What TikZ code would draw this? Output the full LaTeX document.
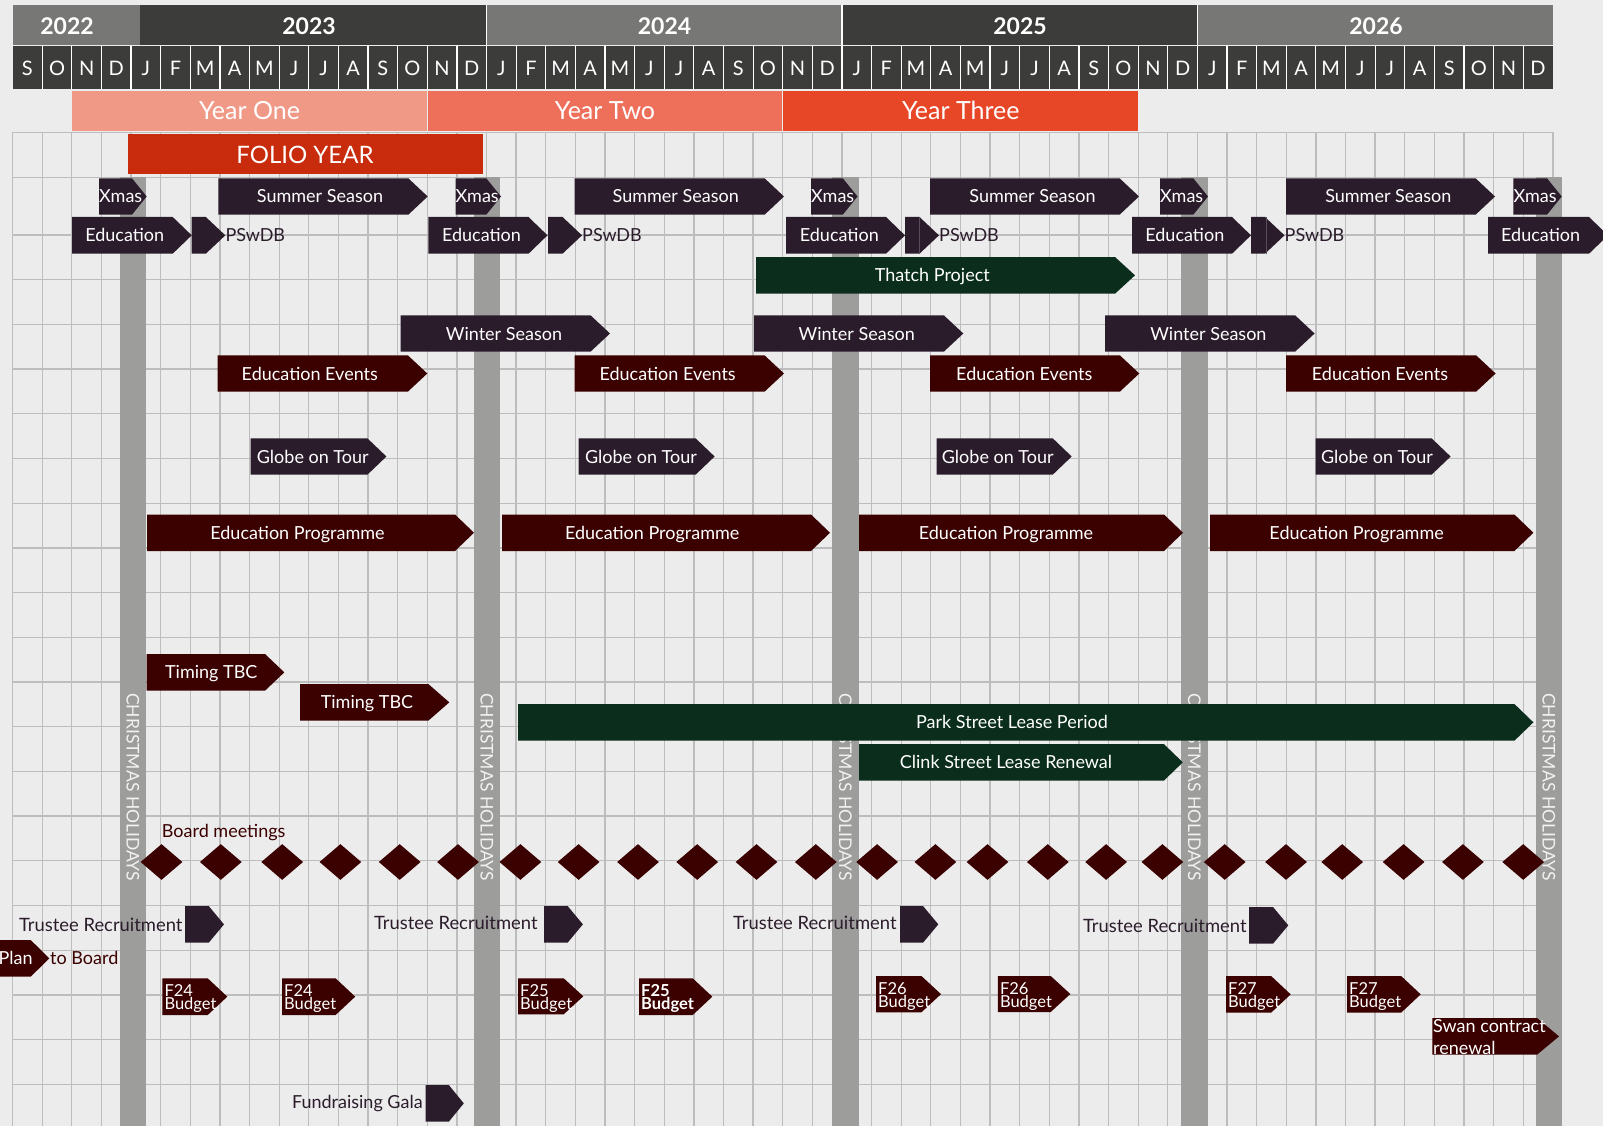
\documentclass[tikz,border=0pt]{standalone}
\usepackage{fontspec}
\setmainfont{Lato}
\definecolor{bg}{HTML}{ECECEC}
\definecolor{gridc}{HTML}{BDBDBD}
\definecolor{ydark}{HTML}{3C3C3B}
\definecolor{ygray}{HTML}{777776}
\definecolor{yone}{HTML}{F19987}
\definecolor{ytwo}{HTML}{EE705A}
\definecolor{ythree}{HTML}{E84727}
\definecolor{folio}{HTML}{C92C0C}
\definecolor{holgray}{HTML}{9D9D9C}
\definecolor{cpur}{HTML}{2B1C2B}
\definecolor{cmar}{HTML}{3B0000}
\definecolor{cgrn}{HTML}{0B2E1C}
\definecolor{seam}{HTML}{5A4C5A}
% #1 x1, #2 y1, #3 x2 (tip), #4 y2, #5 colour, #6 tip length
\newcommand\chev[6]{\fill[#5] (#1,#2) -- ({#3-#6},#2) -- (#3,{(#2+#4)/2}) -- ({#3-#6},#4) -- (#1,#4) -- cycle;}
\tikzset{
  lab/.style={font=\fontsize{18}{20}\selectfont, inner sep=0pt, text height=13pt, text depth=0pt},
  wl/.style={lab, text=white},
  pl/.style={lab, text=cpur},
  ml/.style={lab, text=cmar},
  mon/.style={font=\fontsize{20}{22}\selectfont, text=white, inner sep=0pt, text height=14.3pt, text depth=0pt},
  yr/.style={font=\fontsize{23}{25}\selectfont\bfseries, text=white, inner sep=0pt, text height=16.5pt, text depth=0pt},
  yband/.style={font=\fontsize{25}{27}\selectfont, text=white, inner sep=0pt, text height=17.9pt, text depth=0pt},
  bud/.style={font=\fontsize{16.5}{16.5}\selectfont, text=white, inner sep=0pt, anchor=base west},
  xmaslab/.style={font=\fontsize{17.5}{19}\selectfont, text=white!95!black, inner sep=0pt, text height=12.5pt, text depth=0pt, rotate=-90},
  gline/.style={gridc, line width=1.3pt}
}
\begin{document}
\begin{tikzpicture}[x=1pt,y=-1pt]
\useasboundingbox (0,0) rectangle (1603,1126);
\clip (0,0) rectangle (1603,1126);
\fill[bg] (0,0) rectangle (1603,1126);

% ---------- header: years ----------
\fill[ygray] (12.6,5) rectangle (140,45);
\fill[ydark] (140,5) rectangle (486.5,45);
\fill[ygray] (486.5,5) rectangle (842,45);
\fill[ydark] (842,5) rectangle (1197.4,45);
\fill[ygray] (1197.4,5) rectangle (1552.8,45);
\foreach \xx in {486.5,842,1197.4} \draw[white,line width=1.5pt] (\xx,5) -- (\xx,45);
\node[yr] (y22) at (67,25.8) {2022};
\node[yr] (y23) at (309,25.8) {2023};
\node[yr] (y24) at (664.5,25.8) {2024};
\node[yr] (y25) at (1020,25.8) {2025};
\node[yr] (y26) at (1376,25.8) {2026};

% ---------- header: months ----------
\fill[ydark] (12.6,46) rectangle (1552.8,89);
\foreach \k in {1,...,51} \draw[white,line width=1.2pt] ({12.6+29.62*\k},46) -- ({12.6+29.62*\k},89);
\foreach \m [count=\i from 0] in {S,O,N,D,J,F,M,A,M,J,J,A,S,O,N,D,J,F,M,A,M,J,J,A,S,O,N,D,J,F,M,A,M,J,J,A,S,O,N,D,J,F,M,A,M,J,J,A,S,O,N,D}
  \node[mon] (mo\i) at ({27.41+29.62*\i},68.3) {\m};

% ---------- header: year bands ----------
\fill[yone] (71.8,90.7) rectangle (426.6,130.7);
\fill[ytwo] (428,90.7) rectangle (782,130.7);
\fill[ythree] (783.4,90.7) rectangle (1138.2,130.7);
\node[yband] (yb1) at (249.5,110.5) {Year One};
\node[yband] (yb2) at (605,110.5) {Year Two};
\node[yband] (yb3) at (960.8,110.5) {Year Three};

% ---------- grid ----------
\foreach \k in {0,...,52} \draw[gline] ({12.6+29.62*\k},132.3) -- ({12.6+29.62*\k},1126);
\foreach \yy in {132.3,177.3} \draw[gline] (12.6,\yy) -- (1552.8,\yy);
\foreach \k in {0,...,19} \draw[gline] (12.6,{235+44.7*\k}) -- (1552.8,{235+44.7*\k});

% ---------- folio year ----------
\fill[folio] (128,134.3) rectangle (483,173.7);
\node[font=\fontsize{24}{26}\selectfont, text=white, inner sep=0pt, text height=17.2pt, text depth=0pt] (folio) at (305,154.5) {FOLIO YEAR};

% ---------- christmas holiday bars ----------
\foreach \xb [count=\i] in {119.5,473.5,832,1181,1535.5} {
  \fill[holgray] (\xb,177.3) rectangle ({\xb+26.6},1130);
  \node[xmaslab] (ch\i) at ({\xb+13.3},787) {CHRISTMAS HOLIDAYS};
}

% ---------- Summer Season ----------
\chev{218.3}{178.3}{427.7}{214.7}{cpur}{19.4}
\chev{574.5}{178.3}{784}{214.7}{cpur}{19.4}
\chev{930}{178.3}{1139}{214.7}{cpur}{19.4}
\chev{1286}{178.3}{1495}{214.7}{cpur}{19.4}
\node[wl] (ss1) at (320,196.5) {Summer Season};
\node[wl] (ss2) at (675.7,196.5) {Summer Season};
\node[wl] (ss3) at (1032.5,196.5) {Summer Season};
\node[wl] (ss4) at (1388.3,196.5) {Summer Season};

% ---------- Xmas ----------
\foreach \xa/\xz [count=\i] in {99/146.7,455.5/501,811/857.5,1160/1208,1513.3/1561.7} {
  \chev{\xa}{178.3}{\xz}{214.7}{cpur}{14.7}
  \node[wl,anchor=west] (xm\i) at (\xa,196.5) {Xmas};
}

% ---------- Education / PSwDB ----------
\chev{72}{217}{191.7}{253.7}{cpur}{19}
\chev{428.3}{217}{547.5}{253.7}{cpur}{19}
\chev{786}{217}{905}{253.7}{cpur}{19}
\chev{1132}{217}{1251}{253.7}{cpur}{19}
\chev{1488}{217}{1608}{253.7}{cpur}{19}
\node[wl] (ed1) at (124.7,235.3) {Education};
\node[wl] (ed2) at (481.5,235.3) {Education};
\node[wl] (ed3) at (839.3,235.3) {Education};
\node[wl] (ed4) at (1184.8,235.3) {Education};
\node[wl] (ed5) at (1540.6,235.3) {Education};
\foreach \xa/\xz [count=\i] in {191.5/225.3,548/582,905/939,1251/1284.5} {
  \chev{\xa}{217}{\xz}{253.7}{cpur}{19.5}
  \node[pl,anchor=west] (ps\i) at (\xz,235.3) {PSwDB};
}
\draw[seam,line width=0.8pt] (919.8,217) -- (919.8,253.7);
\draw[seam,line width=0.8pt] (1266,217) -- (1266,253.7);

% ---------- Thatch Project ----------
\chev{756}{257}{1135}{293.7}{cgrn}{20}
\node[wl] (thatch) at (932.3,275.3) {Thatch Project};

% ---------- Winter Season ----------
\chev{400.7}{315.3}{610}{351.7}{cpur}{19.5}
\chev{754}{315.3}{963.3}{351.7}{cpur}{19.5}
\chev{1105}{315.3}{1314.6}{351.7}{cpur}{19.5}
\node[wl] (ws1) at (504,333.5) {Winter Season};
\node[wl] (ws2) at (856.7,333.5) {Winter Season};
\node[wl] (ws3) at (1208.4,333.5) {Winter Season};

% ---------- Education Events ----------
\chev{217.7}{355.3}{427.3}{391.7}{cmar}{19.5}
\chev{574.5}{355.3}{784}{391.7}{cmar}{19.5}
\chev{930}{355.3}{1139.3}{391.7}{cmar}{19.5}
\chev{1286}{355.3}{1495.6}{391.7}{cmar}{19.5}
\node[wl] (ee1) at (309.8,373.5) {Education Events};
\node[wl] (ee2) at (667.6,373.5) {Education Events};
\node[wl] (ee3) at (1024.3,373.5) {Education Events};
\node[wl] (ee4) at (1380,373.5) {Education Events};

% ---------- Globe on Tour ----------
\chev{250.5}{438.3}{386.4}{474.7}{cpur}{19}
\chev{578.6}{438.3}{714.6}{474.7}{cpur}{19}
\chev{936.7}{438.3}{1071.7}{474.7}{cpur}{19}
\chev{1315.7}{438.3}{1450.6}{474.7}{cpur}{19}
\node[wl] (gt1) at (312.8,456.5) {Globe on Tour};
\node[wl] (gt2) at (641,456.5) {Globe on Tour};
\node[wl] (gt3) at (997.8,456.5) {Globe on Tour};
\node[wl] (gt4) at (1377,456.5) {Globe on Tour};

% ---------- Education Programme ----------
\chev{147}{514.5}{474}{551}{cmar}{19}
\chev{502}{514.5}{830}{551}{cmar}{19}
\chev{859}{514.5}{1183}{551}{cmar}{19}
\chev{1210}{514.5}{1533.4}{551}{cmar}{19}
\node[wl] (ep1) at (297.5,532.8) {Education Programme};
\node[wl] (ep2) at (652.2,532.8) {Education Programme};
\node[wl] (ep3) at (1006,532.8) {Education Programme};
\node[wl] (ep4) at (1356.6,532.8) {Education Programme};

% ---------- Timing TBC ----------
\chev{146.7}{654}{284.3}{690.7}{cmar}{19.3}
\chev{300}{684}{449.3}{720.7}{cmar}{21}
\node[wl] (tb1) at (211.3,671.5) {Timing TBC};
\node[wl] (tb2) at (367,701.7) {Timing TBC};

% ---------- Leases ----------
\chev{518}{704}{1533.4}{740.7}{cgrn}{19}
\node[wl] (park) at (1012,722.3) {Park Street Lease Period};
\chev{859}{744}{1182.8}{780.7}{cgrn}{19}
\node[wl] (clink) at (1006,762.3) {Clink Street Lease Renewal};

% ---------- Board meetings ----------
\node[ml,anchor=west] (board) at (161.7,830.7) {Board meetings};
\foreach \dx in {161.5,220.8,282.2,340.4,399.7,458,520.4,578.6,638,697.2,756.5,815.8,877.1,935.4,987.5,1047.8,1106.1,1162.4,1224.7,1286,1342.2,1403.6,1462.9,1523.2}
  \fill[cmar] ({\dx-20.85},862) -- (\dx,844.15) -- ({\dx+20.85},862) -- (\dx,879.85) -- cycle;

% ---------- Trustee Recruitment ----------
\chev{185}{906}{224}{942.7}{cpur}{15.3}
\chev{544.2}{906}{582.9}{942.7}{cpur}{15.3}
\chev{900}{906}{938.3}{942.7}{cpur}{15.3}
\chev{1249}{907}{1288.3}{943.7}{cpur}{15.3}
\node[pl,anchor=east,font=\fontsize{18.4}{20}\selectfont] (tr1) at (182.7,925.3) {Trustee Recruitment};
\node[pl,anchor=east,font=\fontsize{18.4}{20}\selectfont] (tr2) at (537.7,923.3) {Trustee Recruitment};
\node[pl,anchor=east,font=\fontsize{18.4}{20}\selectfont] (tr3) at (896.7,923.3) {Trustee Recruitment};
\node[pl,anchor=east,font=\fontsize{18.4}{20}\selectfont] (tr4) at (1246.7,926.3) {Trustee Recruitment};

% ---------- Plan to Board ----------
\chev{-10}{940}{49.3}{976.7}{cmar}{18.6}
\node[wl,anchor=west] (plan) at (-1.5,957.7) {Plan};
\node[ml,anchor=west] (toboard) at (50,957.7) {to Board};

% ---------- Budgets ----------
\foreach \xa/\xz/\ya/\yb/\lab [count=\i] in {162.3/227.3/978.3/1015/F24,282/355.2/978.3/1015/F24,518/583.3/978.3/1014.3/F25,876/941/976/1012.3/F26,997.8/1070.3/976/1012/F26,1226/1290.7/976/1012.7/F27,1347/1420.7/976/1012.7/F27} {
  \chev{\xa}{\ya}{\xz}{\yb}{cmar}{19.6}
  \node[bud] (bf\i) at ({\xa+2},{\ya+18.5}) {\lab};
  \node[bud] (bb\i) at ({\xa+2},{\ya+31.4}) {Budget};
}
\chev{639}{978.3}{712.3}{1015}{cmar}{19.6}
\node[bud,font=\fontsize{16.5}{16.5}\selectfont\bfseries] (bfx) at (641,996.8) {F25};
\node[bud,font=\fontsize{16.5}{16.5}\selectfont\bfseries] (bbx) at (641,1009.7) {Budget};

% ---------- Swan contract ----------
\chev{1432.3}{1018}{1559}{1054.7}{cmar}{22}
\node[bud,font=\fontsize{18}{18}\selectfont] (sw1) at (1433,1032.3) {Swan contract};
\node[bud,font=\fontsize{18}{18}\selectfont] (sw2) at (1433,1054) {renewal};

% ---------- Fundraising Gala ----------
\chev{425.6}{1085}{463.8}{1121.7}{cpur}{15}
\node[pl,anchor=east] (gala) at (422.9,1102.3) {Fundraising Gala};
\end{tikzpicture}
\end{document}
